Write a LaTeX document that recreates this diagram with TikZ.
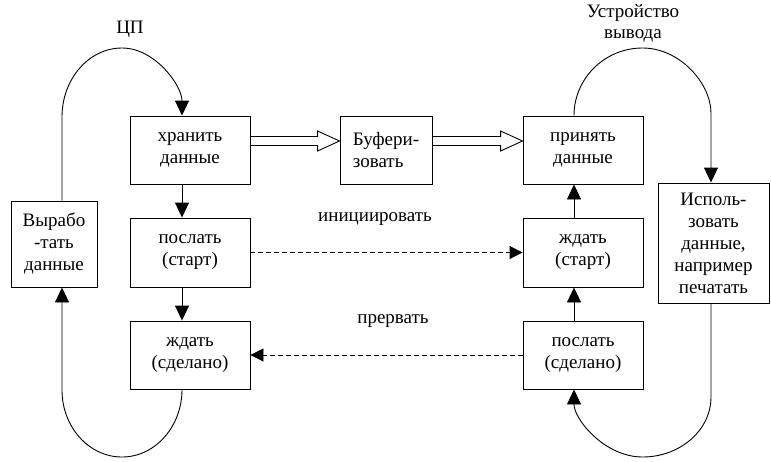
\documentclass[tikz,border=0pt]{standalone}
\usepackage{fontspec}
\newfontfamily\diagfont{Liberation Serif}
\usetikzlibrary{arrows.meta,calc}

\tikzset{
  box/.style={draw, line width=0.9pt, inner sep=0pt, align=center,
    font=\diagfont\fontsize{19}{22}\selectfont},
  lbl/.style={inner sep=0pt, align=center, font=\diagfont\fontsize{19}{21}\selectfont},
  flow/.style={line width=0.9pt, -{Triangle[width=14pt,length=15pt]}},
  signal/.style={line width=0.9pt, dash pattern=on 5pt off 3pt,
    -{Triangle[width=13pt,length=13pt]}},
  hollow/.style={line width=0.9pt, fill=white, line join=miter}
}

% wide outlined arrow from the east side of #1 to the west side of #2
\newcommand\hollowarrow[2]{%
  \draw[hollow] ($(#1.east)+(0,-13.5)$) -- ($(#2.west)+(-22,-13.5)$)
    -- ($(#2.west)+(-22,-19)$) -- ($(#2.west)+(0,-9)$)
    -- ($(#2.west)+(-22,1)$) -- ($(#2.west)+(-22,-4.5)$)
    -- ($(#1.east)+(0,-4.5)$) -- cycle;}

\begin{document}
\begin{tikzpicture}[x=1pt, y=-1pt]
  \useasboundingbox (0,0) rectangle (771,461);

  % processor side
  \node[box, minimum width=120pt, minimum height=68pt] (store) at (190,150) {хранить\\данные};
  \node[box, minimum width=120pt, minimum height=69pt] (sendstart) at (190,252.5) {послать\\(старт)};
  \node[box, minimum width=120pt, minimum height=68pt] (waitdone) at (190,355) {ждать\\(сделано)};
  \node[box, minimum width=86pt, minimum height=86pt] (produce) at (54,244) {Вырабо\\-тать\\данные};

  % buffer
  \node[box, minimum width=92pt, minimum height=68pt, align=left] (buffer) at (386,150) {Буфери-\\зовать};

  % output device side
  \node[box, minimum width=120pt, minimum height=68pt] (accept) at (583,150) {принять\\данные};
  \node[box, minimum width=120pt, minimum height=69pt] (waitstart) at (583,252.5) {ждать\\(старт)};
  \node[box, minimum width=120pt, minimum height=68pt] (senddone) at (583,355) {послать\\(сделано)};
  \node[box, minimum width=111pt, minimum height=120pt] (use) at (713.5,243) {Исполь-\\зовать\\данные,\\например\\печатать};

  % labels
  \node[lbl] (cpu) at (130,29) {ЦП};
  \node[lbl] (device) at (633,23) {Устройство\\вывода};
  \node[lbl] (init) at (375,219) {инициировать};
  \node[lbl] (intr) at (393,321) {прервать};

  % vertical flow
  \draw[flow] ([xshift=-8pt]store.south) -- ([xshift=-8pt]sendstart.north);
  \draw[flow] ([xshift=-8pt]sendstart.south) -- ([xshift=-8pt]waitdone.north);
  \draw[flow] ([xshift=-9pt]senddone.north) -- ([xshift=-9pt]waitstart.south);
  \draw[flow] ([xshift=-9pt]waitstart.north) -- ([xshift=-9pt]accept.south);

  % signals
  \draw[signal] (sendstart.east) -- (waitstart.west);
  \draw[signal] (senddone.west) -- (waitdone.east);

  % data path through the buffer
  \hollowarrow{store}{buffer}
  \hollowarrow{buffer}{accept}

  % processor loop
  \draw[flow] (produce.north -| 62,0) -- (62,117)
    .. controls (62,78.9) and (88.9,48) .. (122,48)
    .. controls (155.1,48) and (182,85.6) .. ([xshift=-8pt]store.north);
  \draw[flow] ([xshift=-8pt]waitdone.south)
    .. controls (182,426.6) and (155.1,457) .. (122,457)
    .. controls (88.9,457) and (62,427) .. (62,390)
    -- (produce.south -| 62,0);

  % output device loop
  \draw[flow] ([xshift=-9pt]accept.north)
    .. controls (574,78.4) and (604.7,48) .. (642.5,48)
    .. controls (680.3,48) and (711,83.9) .. (711,113)
    -- (use.north -| 711,0);
  \draw[flow] (use.south -| 711,0) -- (711,397)
    .. controls (711,430.1) and (680.3,457) .. (642.5,457)
    .. controls (604.7,457) and (574,419.4) .. ([xshift=-9pt]senddone.south);
\end{tikzpicture}
\end{document}
